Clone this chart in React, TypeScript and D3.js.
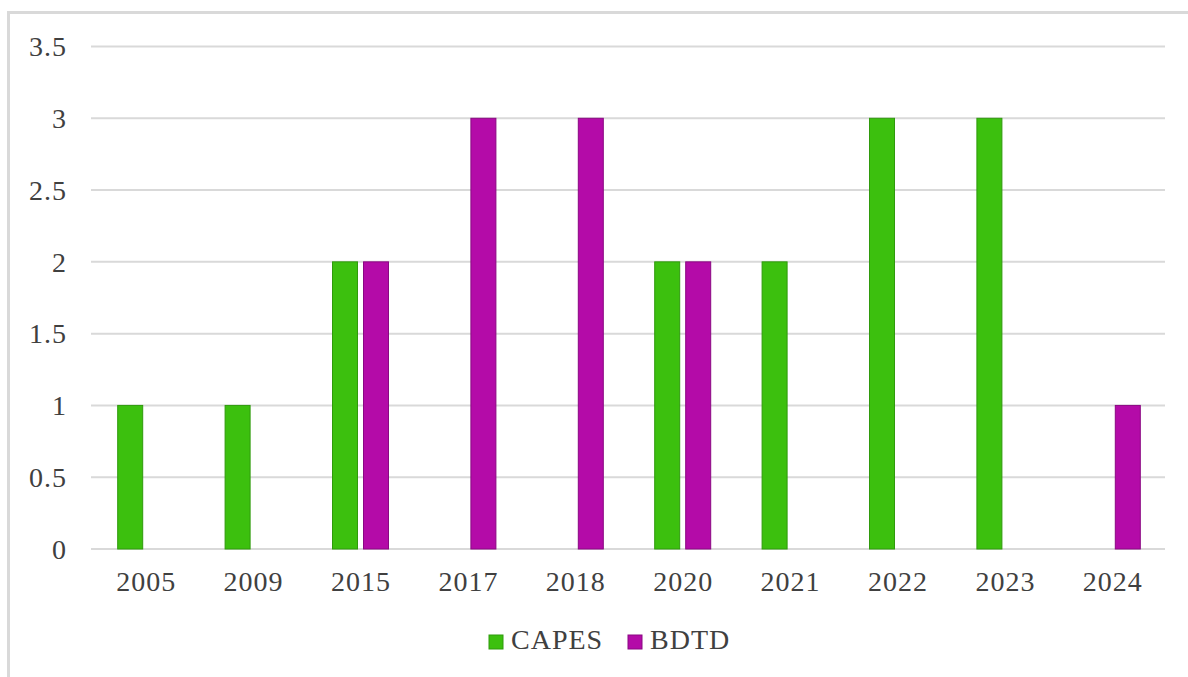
import React from 'react';
import * as d3 from 'd3';

const years = ['2005', '2009', '2015', '2017', '2018', '2020', '2021', '2022', '2023', '2024'];
const capes = [1, 1, 2, 0, 0, 2, 2, 3, 3, 0];
const bdtd = [0, 0, 2, 3, 3, 2, 0, 0, 0, 1];
const seriesNames = ['CAPES', 'BDTD'];
const seriesColors = ['#3cc00e', '#b40ba8'];
const seriesStroke = ['#2f9a0c', '#8a0882'];
const yTicks = [0, 0.5, 1, 1.5, 2, 2.5, 3, 3.5];

const W = 1188;
const H = 677;
const font = '"Liberation Serif", "Times New Roman", serif';
const textStyle = { font: `28px ${font}`, fill: '#404040', letterSpacing: '1px' };

const App = () => {
    const x = d3.scaleBand().domain(years).range([91, 1165]).padding(0);
    const y = d3.scaleLinear().domain([0, 3.5]).range([549, 46.5]);
    const inner = d3.scaleBand().domain(seriesNames).range([-27, 29]).paddingInner(6 / 31);
    const values = [capes, bdtd];

    return (
        <div style={{ position: 'absolute', left: 0, top: 0 }}>
            <svg width={W} height={H} style={{ display: 'block', background: '#fff' }}>
                {/* chart frame (right/bottom cropped off) */}
                <line x1={8.5} x2={8.5} y1={12} y2={H} stroke="#d9d9d9" strokeWidth={3} />
                <line x1={7} x2={W} y1={12.5} y2={12.5} stroke="#d9d9d9" strokeWidth={3} />

                {yTicks.map(t => (
                    <g key={t}>
                        <line x1={91} x2={1165} y1={y(t)} y2={y(t)} stroke="#d9d9d9" strokeWidth={2} />
                        <text x={67} y={y(t)} dy="0.35em" textAnchor="end" style={textStyle}>{t}</text>
                    </g>
                ))}

                {seriesNames.map((s, si) =>
                    years.map((yr, i) => {
                        const v = values[si][i];
                        if (!v) return null;
                        const bx = (x(yr) as number) + x.bandwidth() / 2 + (inner(s) as number);
                        return (
                            <rect key={s + yr} x={bx} y={y(v)} width={inner.bandwidth()} height={y(0) - y(v)}
                                fill={seriesColors[si]} stroke={seriesStroke[si]} strokeWidth={1} />
                        );
                    })
                )}

                {years.map(yr => (
                    <text key={yr} x={(x(yr) as number) + x.bandwidth() / 2 + 1.5} y={591} textAnchor="middle"
                        style={textStyle}>{yr}</text>
                ))}

                {seriesNames.map((s, si) => {
                    const lx = si === 0 ? 489 : 628;
                    return (
                        <g key={s}>
                            <rect x={lx} y={635} width={14} height={14} fill={seriesColors[si]} stroke={seriesStroke[si]} strokeWidth={1} />
                            <text x={lx + 22} y={649} style={textStyle}>{s}</text>
                        </g>
                    );
                })}
            </svg>
        </div>
    );
};

export default App;
